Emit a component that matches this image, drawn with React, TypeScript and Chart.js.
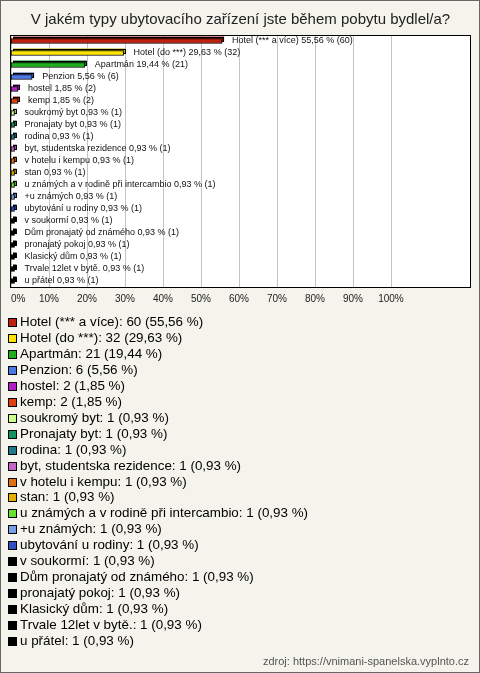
import React, { useEffect, useRef } from 'react';
import { Chart, registerables } from 'chart.js';

Chart.register(...registerables);

const titleText = 'V jakém typy ubytovacího zařízení jste během pobytu bydlel/a?';
const sourceText = 'zdroj: https://vnimani-spanelska.vyplnto.cz';

const categories = [
  'Hotel (*** a více)',
  'Hotel (do ***)',
  'Apartmán',
  'Penzion',
  'hostel',
  'kemp',
  'soukromý byt',
  'Pronajaty byt',
  'rodina',
  'byt, studentska rezidence',
  'v hotelu i kempu',
  'stan',
  'u známých a v rodině při intercambio',
  '+u známých',
  'ubytování u rodiny',
  'v soukormí',
  'Dům pronajatý od známého',
  'pronajatý pokoj',
  'Klasický dům',
  'Trvale 12let v bytě.',
  'u přátel',
];

const counts = [60, 32, 21, 6, 2, 2, 1, 1, 1, 1, 1, 1, 1, 1, 1, 1, 1, 1, 1, 1, 1];

const percents = [55.56, 29.63, 19.44, 5.56, 1.85, 1.85, 0.93, 0.93, 0.93, 0.93, 0.93, 0.93, 0.93, 0.93, 0.93, 0.93, 0.93, 0.93, 0.93, 0.93, 0.93];

const colors = [
  '#c0200e', '#ffe400', '#1fb01f', '#4a78e6', '#b21fc6', '#e0400e',
  '#ccff8c', '#12925e', '#1e7a8a', '#c464c8', '#e2700e', '#e6b000',
  '#66e232', '#78a0e8', '#2f4fc2', '#000000', '#000000', '#000000',
  '#000000', '#000000', '#000000',
];

const xTickValues = [0, 10, 20, 30, 40, 50, 60, 70, 80, 90, 100];
const xMax = 120.8;

const FONT = '"Liberation Sans", Arial, Helvetica, sans-serif';
const fmt = (v: number) => v.toFixed(2).replace('.', ',');

function darken(hex: string, f: number) {
  const n = parseInt(hex.slice(1), 16);
  const r = Math.round(((n >> 16) & 255) * f);
  const g = Math.round(((n >> 8) & 255) * f);
  const b = Math.round((n & 255) * f);
  return `rgb(${r},${g},${b})`;
}

const W = 480;
const H = 673;

export default function App() {
  const ref = useRef<HTMLCanvasElement | null>(null);

  useEffect(() => {
    if (!ref.current) return;

    const backgroundPlugin = {
      id: 'bgBox',
      beforeDraw(chart: any) {
        const { ctx, chartArea } = chart;
        ctx.save();
        ctx.fillStyle = '#f4f3ec';
        ctx.fillRect(0, 0, W, H);
        ctx.strokeStyle = '#666666';
        ctx.lineWidth = 1;
        ctx.strokeRect(0.5, 0.5, W - 1, H - 1);
        ctx.fillStyle = '#ffffff';
        const l = Math.round(chartArea.left) - 1;
        const t = Math.round(chartArea.top);
        const r = Math.round(chartArea.right);
        const b = Math.round(chartArea.bottom);
        ctx.fillRect(l, t, r - l, b - t);
        ctx.restore();
      },
      afterDraw(chart: any) {
        const { ctx, chartArea } = chart;
        ctx.save();
        ctx.strokeStyle = '#000000';
        ctx.lineWidth = 1;
        const l = Math.round(chartArea.left) - 1;
        const t = Math.round(chartArea.top);
        const r = Math.round(chartArea.right);
        const b = Math.round(chartArea.bottom);
        ctx.strokeRect(l + 0.5, t + 0.5, r - l, b - t);

        // legend
        const startY = 322;
        const step = 15.95;
        ctx.font = `13.4px ${FONT}`;
        ctx.textBaseline = 'middle';
        ctx.textAlign = 'left';
        categories.forEach((c, i) => {
          const y = Math.round(startY + i * step);
          ctx.fillStyle = colors[i];
          ctx.fillRect(8, y - 4, 9, 9);
          ctx.strokeStyle = '#000000';
          ctx.strokeRect(8.5, y - 3.5, 8, 8);
          ctx.fillStyle = '#000000';
          ctx.fillText(`${c}: ${counts[i]} (${fmt(percents[i])} %)`, 20, y + 0.5);
        });

        // source
        ctx.font = `11px ${FONT}`;
        ctx.fillStyle = '#555555';
        ctx.textAlign = 'right';
        ctx.fillText(sourceText, 469, 662);
        ctx.restore();
      },
    };

    const barDecorPlugin = {
      id: 'barDecor',
      beforeDatasetsDraw(chart: any) {
        const { ctx, chartArea } = chart;
        const xs = chart.scales.x;
        ctx.save();
        // grid lines
        ctx.strokeStyle = '#c4c4c4';
        ctx.lineWidth = 1;
        xTickValues.forEach((v) => {
          const px = Math.round(xs.getPixelForValue(v)) + 0.5;
          ctx.beginPath();
          ctx.moveTo(px, chartArea.top);
          ctx.lineTo(px, chartArea.bottom);
          ctx.stroke();
        });
        // 3D back faces
        const meta = chart.getDatasetMeta(0);
        meta.data.forEach((el: any, i: number) => {
          const p = el.getProps(['x', 'y', 'base', 'height'], true);
          const h = p.height;
          const x0 = Math.min(p.base, p.x) + 2;
          const x1 = Math.max(p.base, p.x) + 2;
          const y0 = p.y - h / 2 - 2;
          ctx.fillStyle = darken(colors[i], 0.75);
          ctx.fillRect(x0, y0, x1 - x0, h);
          ctx.strokeStyle = '#000000';
          ctx.lineWidth = 1;
          ctx.strokeRect(Math.round(x0) + 0.5, Math.round(y0) + 0.5, Math.max(1, Math.round(x1 - x0) - 1), Math.round(h) - 1);
        });
        ctx.restore();
      },
      afterDatasetsDraw(chart: any) {
        const { ctx } = chart;
        const meta = chart.getDatasetMeta(0);
        ctx.save();
        ctx.font = `9px ${FONT}`;
        ctx.fillStyle = '#111111';
        ctx.textBaseline = 'middle';
        ctx.textAlign = 'left';
        meta.data.forEach((el: any, i: number) => {
          const p = el.getProps(['x', 'y'], true);
          ctx.fillText(`${categories[i]} ${fmt(percents[i])} % (${counts[i]})`, p.x + 10, p.y);
        });
        ctx.restore();
      },
    };

    const chart = new Chart(ref.current, {
      type: 'bar',
      data: {
        labels: categories,
        datasets: [
          {
            data: percents,
            backgroundColor: colors,
            borderColor: '#000000',
            borderWidth: 1,
            barThickness: 5,
            borderSkipped: false,
          },
        ],
      },
      options: {
        indexAxis: 'y',
        responsive: false,
        animation: false,
        devicePixelRatio: 1,
        layout: { padding: { left: 11, right: 10, top: 0, bottom: 363 } },
        scales: {
          x: {
            type: 'linear',
            position: 'bottom',
            min: 0,
            max: xMax,
            afterBuildTicks(scale: any) {
              scale.ticks = [...xTickValues, xMax].map((v) => ({ value: v }));
            },
            afterFit(scale: any) {
              scale.height = 23;
            },
            ticks: {
              autoSkip: false,
              maxRotation: 0,
              padding: 6,
              align: 'inner',
              color: '#222222',
              font: { family: FONT, size: 10 },
              callback: (v: any) => (v <= 100 ? `${v}%` : ''),
            },
            grid: { display: false, drawTicks: false },
            border: { display: false },
          },
          y: {
            type: 'category',
            display: false,
            offset: true,
          },
        },
        plugins: {
          legend: { display: false },
          tooltip: { enabled: false },
          title: {
            display: true,
            text: titleText,
            color: '#222222',
            font: { family: FONT, size: 15, weight: 'normal', lineHeight: 1.2 },
            padding: { top: 10.5, bottom: 6.5 },
          },
        },
      },
      plugins: [backgroundPlugin, barDecorPlugin],
    } as any);

    return () => chart.destroy();
  }, []);

  return (
    <div style={{ position: 'fixed', left: 0, top: 0, width: W, height: H }}>
      <canvas ref={ref} width={W} height={H} style={{ display: 'block', width: W, height: H }} />
    </div>
  );
}
